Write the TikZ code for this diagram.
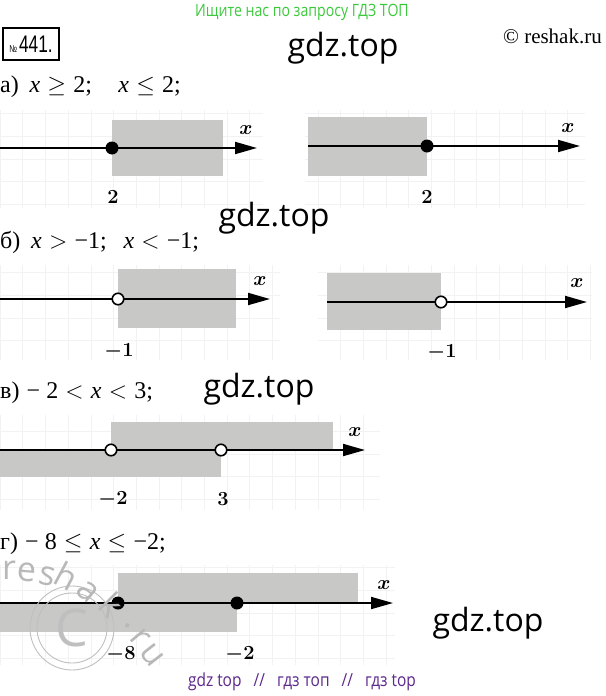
\documentclass[tikz,border=0pt]{standalone}
\usepackage{fix-cm}
\usepackage[no-math]{fontspec}
\usepackage{amsmath,amssymb,bm}
\setmainfont{Liberation Serif}
\newfontfamily\wmfont{Open Sans}
\newfontfamily\headfont[FakeStretch=0.83]{Open Sans}
\newfontfamily\footfont[FakeStretch=0.86]{Open Sans}
\newfontfamily\numfont[FakeStretch=0.72]{Liberation Sans}
\usetikzlibrary{arrows.meta}
\definecolor{boxgray}{RGB}{200,201,199}
\definecolor{headgreen}{RGB}{60,200,60}
\definecolor{footviolet}{RGB}{92,40,140}
\tikzset{
  axisline/.style={line width=1.8pt, -{Triangle[length=22pt, width=12pt]}},
  region/.style={fill=boxgray},
  bggrid/.style={draw=black!5, line width=0.5pt, xstep=22.7pt, ystep=22.7pt},
  fulldot/.style={circle, fill=black, inner sep=0pt, minimum size=13pt},
  holedot/.style={circle, draw=black, fill=white, line width=1.6pt, inner sep=0pt, minimum size=11.5pt},
  ticklab/.style={inner sep=0pt, font=\fontsize{20}{20}\selectfont},
  task/.style={anchor=base west, inner sep=0pt, font=\fontsize{24}{24}\selectfont},
  wmark/.style={inner sep=0pt, font=\wmfont\fontsize{32}{32}\selectfont},
  wletter/.style={inner sep=0pt, text=black!28, font=\wmfont\fontsize{34}{34}\selectfont}
}
\newcommand{\rs}{\hspace{0.3em}}
\begin{document}
\begin{tikzpicture}[x=1pt, y=-1pt]
\useasboundingbox (0,0) rectangle (605,696);
\node[inner sep=0pt, font=\headfont\fontsize{17}{17}\selectfont, text=headgreen] (head) at (302,12.5) {Ищите нас по запросу ГДЗ ТОП};
\node[draw, line width=1.5pt, minimum width=56pt, minimum height=32pt, inner sep=0pt, font=\numfont] (numbox) at (31,44) {{\fontsize{10}{10}\selectfont №}\hspace{2pt}{\fontsize{24}{24}\selectfont 441.}};
\node[wmark] (g1) at (343,48) {gdz.top};
\node[inner sep=0pt, anchor=east, font=\fontsize{21}{21}\selectfont] (copy) at (602,36) {© reshak.ru};

% a
\node[task] (ta) at (0,92) {а)\hspace{0.45em}\textit{x}\rs$\geq$\rs2;\hspace{1.1em}\textit{x}\rs$\leq$\rs2;};
\draw[bggrid] (0,110) grid (263,208);
\fill[region] (112,120) rectangle (223,176);
\coordinate (a1s) at (0,148);
\coordinate (a1e) at (257,148);
\draw[axisline] (a1s) -- (a1e);
\node[fulldot] (a1p) at (112,148) {};
\node[ticklab] (a1n) at (113,197) {$\mathbf{2}$};
\node[ticklab] (a1x) at (246,130) {$\bm{x}$};
\draw[bggrid] (305,110) grid (585,208);
\fill[region] (308,117) rectangle (427,176);
\coordinate (a2s) at (308,146);
\coordinate (a2e) at (580,146);
\draw[axisline] (a2s) -- (a2e);
\node[fulldot] (a2p) at (427,146) {};
\node[ticklab] (a2n) at (427,197) {$\mathbf{2}$};
\node[ticklab] (a2x) at (568,128) {$\bm{x}$};
\node[wmark] (g2) at (274,218) {gdz.top};

% b
\node[task] (tb) at (0,248) {б)\hspace{0.45em}\textit{x}\rs$>$\rs−1;\hspace{0.7em}\textit{x}\rs$<$\rs−1;};
\draw[bggrid] (0,265) grid (280,360);
\fill[region] (118,269) rectangle (236,328);
\coordinate (b1s) at (0,299);
\coordinate (b1e) at (270,299);
\draw[axisline] (b1s) -- (b1e);
\node[holedot] (b1p) at (118,299) {};
\node[ticklab] (b1n) at (119,351) {$\bm{-1}$};
\node[ticklab] (b1x) at (260,281) {$\bm{x}$};
\draw[bggrid] (318,265) grid (592,360);
\fill[region] (327,273) rectangle (441,330);
\coordinate (b2s) at (327,302);
\coordinate (b2e) at (587,302);
\draw[axisline] (b2s) -- (b2e);
\node[holedot] (b2p) at (441,302) {};
\node[ticklab] (b2n) at (442,352) {$\bm{-1}$};
\node[ticklab] (b2x) at (577,283) {$\bm{x}$};

% c
\node[task] (tc) at (0,398) {в)\rs− 2\rs$<$\rs\textit{x}\rs$<$\rs3;};
\node[wmark] (g3) at (259,389) {gdz.top};
\draw[bggrid] (0,415) grid (380,510);
\fill[region] (111,422) rectangle (333,450);
\fill[region] (0,450) rectangle (221,477);
\coordinate (cs) at (0,450);
\coordinate (ce) at (365,450);
\draw[axisline] (cs) -- (ce);
\node[holedot] (cp) at (111,450) {};
\node[holedot] (cq) at (221,450) {};
\node[ticklab] (cn) at (113,499) {$\bm{-2}$};
\node[ticklab] (cm) at (223,499) {$\mathbf{3}$};
\node[ticklab] (cx) at (355,432) {$\bm{x}$};

% d
\node[task] (td) at (0,549) {г)\rs− 8\rs$\leq$\rs\textit{x}\rs$\leq$\rs−2;};
\draw[bggrid] (0,565) grid (395,665);
\fill[region] (118,573) rectangle (358,603);
\fill[region] (0,603) rectangle (237,632);
\coordinate (ds) at (0,603);
\coordinate (de) at (393,603);
\draw[axisline] (ds) -- (de);
\node[fulldot] (dp) at (118,603) {};
\node[fulldot] (dq) at (237,603) {};
\node[ticklab] (dn) at (121,654) {$\bm{-8}$};
\node[ticklab] (dm) at (240,654) {$\bm{-2}$};
\node[ticklab] (dx) at (384,585) {$\bm{x}$};
\node[wmark] (g4) at (488,623) {gdz.top};

\draw[black!25, line width=0.9pt] (72,628) circle[radius=42pt];
\draw[black!25, line width=0.9pt] (72,628) circle[radius=35pt];
\node[inner sep=0pt, font=\wmfont\fontsize{52}{52}\selectfont, text=black!25] (wc) at (72,628) {C};
\foreach \ch/\px/\py/\ang [count=\i] in {r/9/570/0, e/27/572/-5, s/47/576/-12, h/67/576/-28, a/88/592/-40, k/112/605/-45, ./128/626/-50, r/140/638/-50, u/152/655/-52}
  \node[wletter, rotate=\ang] (wl\i) at (\px,\py) {\ch};
\node[inner sep=0pt, font=\footfont\fontsize{18}{18}\selectfont, text=footviolet] (foot) at (302,682) {gdz top\ \ \ //\ \ \ гдз топ\ \ \ //\ \ \ гдз top};
\end{tikzpicture}
\end{document}
